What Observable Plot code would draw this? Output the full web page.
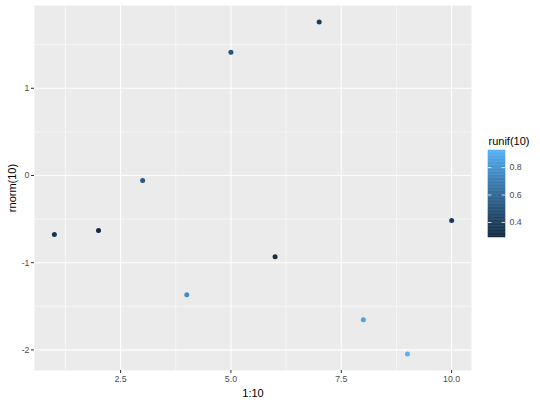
<!DOCTYPE html>
<html><head><meta charset="utf-8">
<script src="https://cdn.jsdelivr.net/npm/d3@7"></script>
<script src="https://cdn.jsdelivr.net/npm/@observablehq/plot@0.6"></script>
<style>
body{margin:0;background:#fff;font-family:"Liberation Sans",Arial,sans-serif;}
#wrap{position:relative;width:540px;height:400px;}
#main{position:absolute;left:0;top:0;}
#leg{position:absolute;left:476px;top:128px;width:64px;}
</style></head><body>
<div id="wrap"><div id="main"></div><div id="leg"></div></div>
<script>
const xs = [1,2,3,4,5,6,7,8,9,10];
const ys = [-0.678,-0.632,-0.057,-1.368,1.414,-0.931,1.759,-1.655,-2.046,-0.517];
const cs = [0.34,0.29,0.52,0.77,0.50,0.31,0.38,0.86,0.925,0.37];
const xTicks = [2.5,5,7.5,10];
const xMinor = [1.25,3.75,6.25,8.75];
const yTicks = [-2,-1,0,1];
const yMinor = [-1.5,-0.5,0.5,1.5];
const legTicks = [0.4,0.6,0.8];

const data = xs.map((x,i)=>({x, y: ys[i], c: cs[i]}));
const cMin = d3.min(cs), cMax = d3.max(cs);
const interp = d3.interpolateLab("#132B43","#56B1F7");
const color = {type:"linear", domain:[cMin,cMax], interpolate: ()=>interp};

const xPad = (d3.max(xs)-d3.min(xs))*0.05;
const yPad = (d3.max(ys)-d3.min(ys))*0.05;

const main = Plot.plot({
  width:540, height:400,
  marginLeft:34, marginRight:69, marginTop:5, marginBottom:30,
  style:{fontFamily:"Liberation Sans, Arial, sans-serif", background:"#fff"},
  x:{domain:[d3.min(xs)-xPad, d3.max(xs)+xPad]},
  y:{domain:[d3.min(ys)-yPad, d3.max(ys)+yPad]},
  color,
  marks:[
    Plot.frame({fill:"#EBEBEB", stroke:null}),
    Plot.ruleX(xMinor,{stroke:"#fff", strokeWidth:0.55}),
    Plot.ruleY(yMinor,{stroke:"#fff", strokeWidth:0.55}),
    Plot.ruleX(xTicks,{stroke:"#fff", strokeWidth:1.1}),
    Plot.ruleY(yTicks,{stroke:"#fff", strokeWidth:1.1}),
    Plot.axisX({ticks:xTicks, tickFormat:d3.format(".1f"), tickSize:3, tickPadding:2, stroke:"#333", fill:"#4d4d4d", fontSize:8.8, label:"1:10", labelAnchor:"center", labelArrow:"none", labelOffset:26}),
    Plot.axisY({ticks:yTicks, tickFormat:d=>String(d), tickSize:3, tickPadding:2, stroke:"#333", fill:"#4d4d4d", fontSize:8.8, label:"rnorm(10)", labelAnchor:"center", labelArrow:"none", labelOffset:26}),
    Plot.dot(data,{x:"x", y:"y", fill:"c", r:2.5, stroke:null})
  ]
});
main.querySelectorAll('[aria-label="x-axis label"] text, [aria-label="y-axis label"] text').forEach(t=>{t.setAttribute("font-size","11");t.setAttribute("fill","#000");});
document.getElementById("main").appendChild(main);

const nSlices = 60;
const slices = d3.range(nSlices).map(i=>{
  const a = cMin + (cMax-cMin)*i/nSlices, b = cMin + (cMax-cMin)*(i+1)/nSlices;
  return {y1:a, y2:b, c:(a+b)/2};
});
const leg = Plot.plot({
  width:64, height:112,
  marginLeft:12, marginRight:35, marginTop:22, marginBottom:3,
  style:{fontFamily:"Liberation Sans, Arial, sans-serif", background:"transparent", overflow:"visible"},
  x:{domain:[0,1], axis:null},
  y:{domain:[cMin,cMax], axis:null},
  color,
  marks:[
    Plot.rectY(slices,{x1:0, x2:1, y1:"y1", y2:"y2", fill:"c", stroke:"c", strokeWidth:0.5}),
    Plot.ruleY(legTicks,{x1:0, x2:0.2, stroke:"#fff", strokeWidth:0.8}),
    Plot.ruleY(legTicks,{x1:0.8, x2:1, stroke:"#fff", strokeWidth:0.8}),
    Plot.text(legTicks,{x:1, y:d=>d, text:d=>d3.format(".1f")(d), textAnchor:"start", dx:4, fill:"#4d4d4d", fontSize:8.8}),
    Plot.text(["runif(10)"],{frameAnchor:"top-left", dy:-13, text:d=>d, fontSize:11, fill:"#000", textAnchor:"start"})
  ]
});
document.getElementById("leg").appendChild(leg);
</script></body></html>
